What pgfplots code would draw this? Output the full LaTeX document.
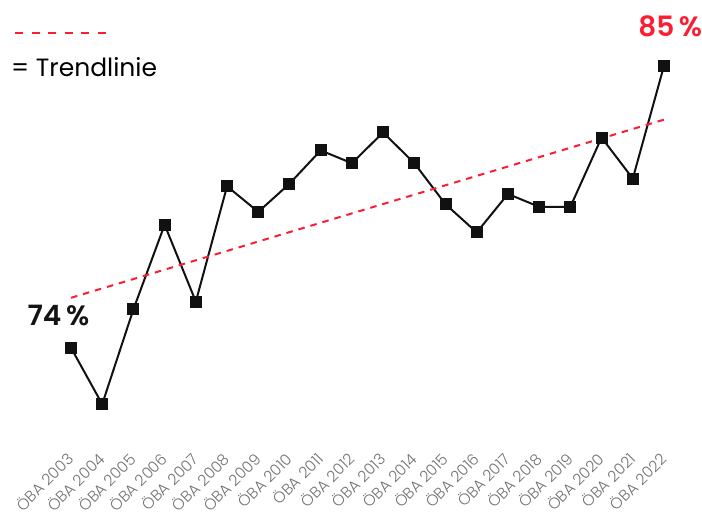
\documentclass[border=0pt]{standalone}
\usepackage{pgfplots}
\pgfplotsset{compat=1.18}
\usepackage{fontspec}
\setmainfont{Poppins}
\newfontfamily\lightfont{Poppins Light}
\newfontfamily\semifont{Poppins SemiBold}
\definecolor{trendred}{RGB}{250,30,50}
\definecolor{markblack}{RGB}{17,17,17}
\definecolor{labelgray}{RGB}{115,115,115}

\begin{document}
\begin{tikzpicture}[x=1pt,y=1pt]
  % fixed canvas
  \path[use as bounding box] (0,0) rectangle (702,517);
  \begin{axis}[
    at={(71pt,59pt)}, anchor=south west,
    scale only axis,
    width=593pt, height=392.2pt,
    xmin=0, xmax=19, ymin=69.7, ymax=85,
    axis line style={draw=none},
    ytick=\empty,
    xtick={0,...,19},
    xticklabels={ÖBA 2003,ÖBA 2004,ÖBA 2005,ÖBA 2006,ÖBA 2007,ÖBA 2008,ÖBA 2009,ÖBA 2010,ÖBA 2011,ÖBA 2012,ÖBA 2013,ÖBA 2014,ÖBA 2015,ÖBA 2016,ÖBA 2017,ÖBA 2018,ÖBA 2019,ÖBA 2020,ÖBA 2021,ÖBA 2022},
    major tick length=0pt,
    xticklabel style={yshift=3pt, rotate=45, anchor=east, font=\lightfont\fontsize{15.5}{15.5}\selectfont, text=labelgray, inner sep=1pt},
    clip=false,
  ]
    \addplot[color=markblack, line width=2pt, mark=square*, mark size=5.5pt,
      mark options={solid, fill=markblack, draw=markblack, line width=0pt}]
      coordinates {
        (0,74.0) (1,71.8) (2,75.5) (3,78.8) (4,75.8) (5,80.3) (6,79.3)
        (7,80.4) (8,81.7) (9,81.2) (10,82.4) (11,81.2) (12,79.6) (13,78.5)
        (14,80.0) (15,79.5) (16,79.5) (17,82.2) (18,80.6) (19,85.0)
      };
    % linear trend
    \addplot[color=trendred, line width=2pt, dash pattern=on 6.5pt off 6pt]
      coordinates {(0,75.95) (19,82.9)};
    \node[font=\semifont\fontsize{28}{28}\selectfont, text=black!92, anchor=center]
      at (axis cs:-0.4,75.25) {74\,\%};
    \node[font=\semifont\fontsize{28}{28}\selectfont, text=trendred, anchor=center]
      at (axis cs:19.2,86.55) {85\,\%};
  \end{axis}
  % legend
  \draw[trendred, line width=2pt, dash pattern=on 8pt off 8.5pt] (15,484) -- (110,484);
  \node[anchor=base west, font=\fontsize{25}{25}\selectfont, inner sep=0pt] at (11,440) {= Trendlinie};
\end{tikzpicture}
\end{document}
